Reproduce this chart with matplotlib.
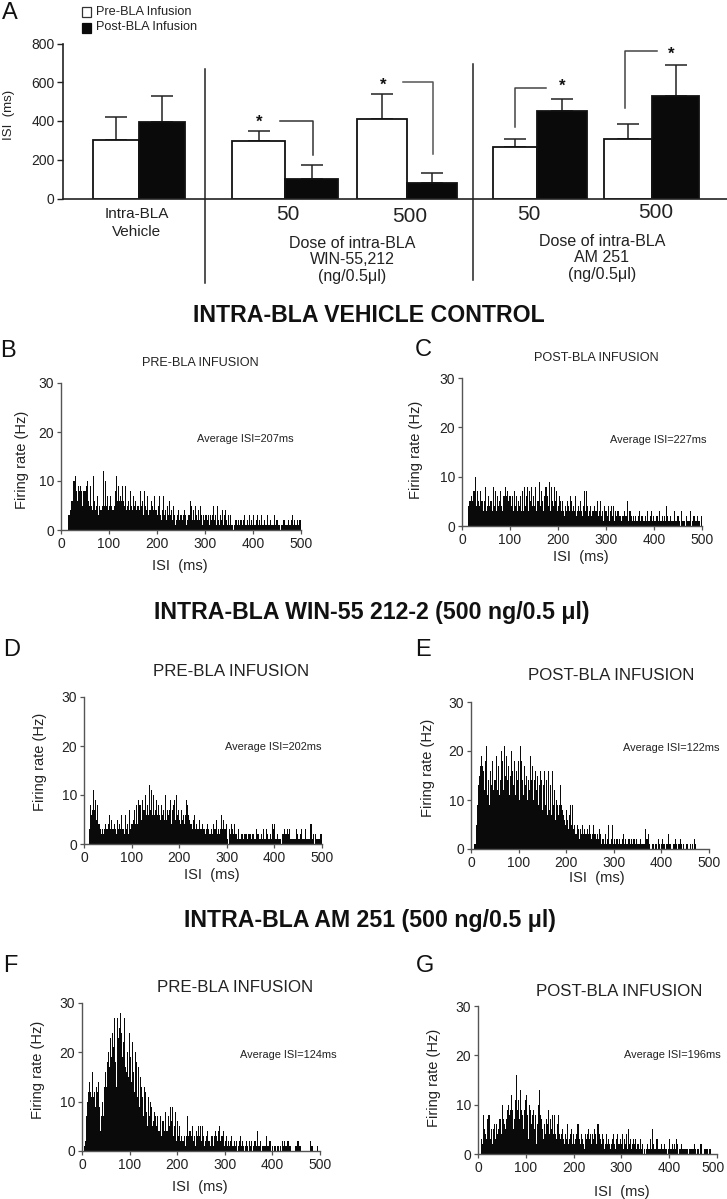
import numpy as np
import matplotlib
matplotlib.use('Agg')
import matplotlib.pyplot as plt
from matplotlib.transforms import ScaledTranslation

plt.rcParams['font.family'] = ['Liberation Sans', 'DejaVu Sans']

W, H = 727, 1199

# panel A
pre_isi = [302, 297, 410, 265, 305]
post_isi = [396, 103, 78, 452, 527]
pre_top = [420, 347, 538, 305, 383]
post_top = [530, 172, 130, 515, 690]
isi_ticks = [0, 200, 400, 600, 800]

# histograms, 2 ms bins
hist_b = [1,0,0,0,0,0,0,3,3,4,6,6,8,10,10,11,8,6,9,8,9,8,5,8,8,
          8,9,10,6,5,9,5,4,11,6,4,5,7,4,3,5,4,4,5,12,5,10,5,7,4,
          5,7,5,4,4,5,8,11,6,9,6,7,6,5,9,6,5,9,4,5,6,4,8,5,4,
          7,5,6,4,5,5,4,8,5,6,3,8,5,3,4,7,3,4,4,6,5,4,7,4,4,
          3,5,7,3,2,4,7,3,4,2,5,3,6,2,3,4,2,5,3,1,2,3,4,2,3,
          3,2,3,4,3,1,2,3,3,6,5,2,4,3,2,5,3,2,4,2,5,3,1,3,2,
          3,3,2,3,1,3,2,3,5,2,3,1,3,5,2,1,3,2,4,1,3,4,2,1,3,
          1,3,1,1,0,1,2,2,1,2,1,2,2,1,1,2,3,1,1,2,1,3,1,2,1,
          3,1,1,2,3,1,2,1,3,1,1,2,1,1,1,3,1,1,2,1,1,1,3,1,2,
          2,1,1,0,1,1,2,2,1,1,1,2,1,1,1,2,3,1,2,1,1,2,1,2,2]
hist_c = [1,0,0,0,0,0,4,5,5,6,5,7,7,5,10,4,7,5,4,7,5,5,3,5,8,
          3,4,6,4,5,5,3,8,4,7,3,6,4,4,5,7,4,3,6,6,8,6,7,5,6,
          6,4,6,3,7,4,6,3,5,4,6,3,7,5,3,8,4,6,8,3,7,5,8,4,6,
          4,8,3,5,5,9,4,7,5,3,6,8,4,8,6,4,9,3,8,5,4,8,5,7,3,
          4,6,5,3,5,3,2,4,3,5,4,3,6,2,5,3,4,3,6,2,3,4,3,5,3,
          2,4,7,3,7,4,2,3,4,2,3,3,4,2,3,3,5,2,3,5,2,3,1,4,3,
          3,2,4,1,3,4,2,4,1,3,2,3,1,3,2,2,1,2,2,3,2,2,5,1,3,
          3,2,1,2,1,2,1,1,2,3,1,2,1,2,1,1,2,1,3,1,1,2,3,1,2,
          1,1,2,2,1,3,1,1,2,1,2,1,4,1,2,1,1,2,1,1,1,3,1,1,2,
          2,1,0,3,1,1,1,0,2,1,1,1,3,1,0,1,2,2,1,1,2,1,1,0,2]
hist_d = [1,0,0,0,0,3,8,6,7,11,6,7,9,5,8,4,4,3,2,3,2,3,4,3,3,
          4,6,3,5,3,3,3,4,3,2,5,3,4,3,6,3,3,2,6,3,4,2,7,3,4,
          4,5,3,7,4,8,4,9,8,8,5,9,7,7,10,6,8,6,12,7,11,6,7,10,6,
          7,9,6,8,6,5,8,6,7,5,10,5,7,6,7,9,4,7,8,6,9,5,10,6,7,
          5,4,7,5,6,4,6,9,8,6,5,4,4,3,5,3,6,3,4,3,3,5,3,3,4,
          3,3,2,3,4,3,2,2,3,2,4,2,3,3,5,2,3,2,3,6,3,5,3,3,4,
          1,0,3,2,4,3,2,1,4,2,2,1,3,1,1,2,2,1,2,2,2,1,2,2,2,
          1,2,2,1,1,1,3,2,2,1,1,2,1,3,1,1,3,2,1,1,2,1,1,4,3,
          4,1,1,2,1,1,1,0,2,2,3,2,2,3,2,3,1,1,1,1,1,1,1,3,2,
          1,1,2,3,1,1,1,3,1,1,1,1,4,4,1,1,2,0,2,1,1,1,1,2,2]
hist_e = [1,0,0,1,1,5,9,13,15,17,19,16,17,16,12,18,21,11,14,9,16,13,18,12,14,
          14,19,12,17,11,14,20,16,18,12,21,15,19,14,17,11,15,20,16,13,18,11,16,14,18,
          10,21,13,18,14,11,17,13,15,10,14,12,19,14,17,10,14,16,12,15,9,13,16,11,14,
          8,13,16,9,14,7,16,8,13,7,16,9,12,6,10,9,7,9,13,6,9,8,7,6,5,
          8,6,4,7,9,5,9,4,5,3,3,5,4,2,2,4,3,5,3,4,3,3,4,3,5,
          3,2,3,5,3,3,2,3,2,4,2,3,1,2,2,1,3,1,2,5,1,1,2,5,1,
          2,1,2,2,1,2,1,0,1,2,3,1,2,1,1,2,2,1,2,1,2,2,1,2,1,
          1,1,0,2,1,1,1,1,4,2,2,3,1,0,0,1,1,0,1,1,0,2,1,1,0,
          1,2,1,1,0,1,1,3,1,1,0,0,1,1,2,1,0,1,0,1,2,1,0,1,0,
          0,1,1,0,0,1,0,1,0,2,1,0,0,0,0,0,0,0,0,0,0,0,0,0,0]
hist_f = [0,0,1,2,7,10,12,14,12,11,13,16,11,12,9,13,12,14,9,4,7,10,7,13,16,
          13,18,20,17,23,19,17,24,21,27,18,13,27,23,25,28,24,19,22,27,17,16,20,15,24,
          19,14,22,18,16,12,20,18,11,17,9,15,13,11,7,13,12,8,5,11,7,10,8,9,5,
          6,8,7,5,7,4,4,7,3,6,6,4,8,4,4,7,5,9,4,6,9,3,5,8,2,
          6,3,5,2,3,2,2,3,1,3,7,3,4,4,2,3,5,2,3,1,4,3,5,3,5,
          2,5,3,1,2,3,4,2,2,1,3,2,3,1,3,4,3,2,4,5,2,3,3,4,1,
          2,3,1,2,1,2,3,2,1,1,2,1,2,0,1,2,3,1,2,1,0,1,2,1,0,
          2,1,2,1,0,1,2,2,1,4,1,1,2,0,1,1,1,1,3,1,1,2,2,1,0,
          1,0,1,1,0,1,1,0,1,0,2,1,2,1,1,2,2,1,1,0,0,0,0,0,1,
          1,2,2,1,1,0,0,0,0,0,0,0,0,0,0,2,1,1,0,0,0,0,1,0,0]
hist_g = [0,0,0,3,2,8,5,4,3,7,8,4,8,3,5,2,5,6,3,6,4,5,7,7,4,
          10,7,6,5,7,9,10,8,9,6,12,9,5,7,11,16,9,11,7,13,9,8,5,9,11,
          12,8,3,10,9,6,8,3,9,5,8,2,6,10,13,8,7,5,3,6,4,7,6,9,4,
          7,5,8,4,6,8,4,3,6,8,4,3,4,5,3,2,4,3,6,2,3,4,5,2,4,
          2,3,4,2,6,6,3,2,4,3,2,1,4,3,4,5,3,4,2,4,3,5,4,2,6,
          6,3,4,3,2,4,3,1,2,4,2,3,2,1,2,3,4,2,1,3,4,2,1,2,3,
          2,4,1,3,2,4,1,5,2,3,1,2,3,2,3,1,2,2,1,3,1,1,2,0,1,
          0,1,2,1,1,3,1,5,2,1,1,3,3,1,1,1,2,1,1,1,2,1,1,0,1,
          3,1,1,2,1,2,1,3,2,0,1,1,2,1,1,1,1,1,1,1,0,1,1,1,1,
          1,2,1,0,1,1,0,2,2,0,0,1,1,0,1,1,0,1,1,0,0,0,0,0,0]

rate_ticks = [0, 10, 20, 30]
isi_bins = [0, 100, 200, 300, 400, 500]


def add_px_axes(left, right, top, bottom):
    return fig.add_axes([left / W, 1 - bottom / H, (right - left) / W, (bottom - top) / H])


fig = plt.figure(figsize=(W / 100, H / 100), dpi=100)

# overlay in pixel coordinates for captions, dividers and brackets
over = fig.add_axes([0, 0, 1, 1], zorder=5)
over.set_xlim(0, W)
over.set_ylim(H, 0)
over.axis('off')

# panel A
ax = add_px_axes(63, 727, 43.5, 198.5)
ax.set_xlim(63, 727)
ax.set_ylim(0, 800)
pre_edges = [(93, 139), (232, 285), (357, 407), (493, 537), (604, 652)]
post_edges = [(139, 185), (285, 338), (407, 457), (537, 587), (652, 699)]
for edges, vals, tops, col in [(pre_edges, pre_isi, pre_top, 'white'), (post_edges, post_isi, post_top, '#0a0a0a')]:
    for (a, b), v, t in zip(edges, vals, tops):
        ax.errorbar((a + b) / 2, v, yerr=[[0], [t - v]], color='#222222', elinewidth=1.1,
                    capsize=8, capthick=1.1, zorder=1)
        ax.bar(a, v, width=b - a, align='edge', color=col, edgecolor='#111111', linewidth=1.3, zorder=2)
ax.set_yticks(isi_ticks)
ax.set_xticks([])
ax.tick_params(axis='y', length=4, width=1, pad=2, labelsize=10, colors='#222222')
for s in ['top', 'right']:
    ax.spines[s].set_visible(False)
for s in ['left', 'bottom']:
    ax.spines[s].set_linewidth(1.2)
    ax.spines[s].set_color('#222222')

over.plot([204.5, 204.5], [69, 283], color='#222222', lw=1.1)
over.plot([473, 473], [64, 280], color='#222222', lw=1.1)
over.plot([280, 313, 313], [120.5, 120.5, 155], color='#333333', lw=1.1)
over.plot([403, 433, 433], [82, 82, 154], color='#555555', lw=1.1)
over.plot([515, 515, 546], [127, 88, 88], color='#444444', lw=1.1)
over.plot([625, 625, 657], [108, 51, 51], color='#444444', lw=1.1)

for x, y in [(259, 122), (383, 85), (562.5, 86), (671, 54)]:
    over.text(x, y, '*', ha='center', va='center', fontsize=12, fontweight='bold', color='#111111')

# legend
over.add_patch(plt.Rectangle((82, 7), 9, 10, facecolor='white', edgecolor='#333333', lw=0.9))
over.add_patch(plt.Rectangle((82, 22.5), 9, 10, facecolor='#0a0a0a', edgecolor='#0a0a0a', lw=0.9))
over.text(96, 12, 'Pre-BLA Infusion', va='center', fontsize=9.2, color='#222222')
over.text(96, 27, 'Post-BLA Infusion', va='center', fontsize=9.2, color='#222222')

labels_a = [(137, 214, 'Intra-BLA', 11), (137, 232, 'Vehicle', 11),
            (288, 214, '50', 15), (410, 217, '500', 15), (529, 214, '50', 15), (656, 212, '500', 15),
            (352, 243, 'Dose of intra-BLA', 11.5), (352, 259, 'WIN-55,212', 11.5), (352, 277, '(ng/0.5\u03bcl)', 11.5),
            (602, 241, 'Dose of intra-BLA', 11.5), (602, 258, 'AM 251', 11.5), (602, 275, '(ng/0.5\u03bcl)', 11.5)]
for x, y, s, size in labels_a:
    over.text(x, y, s, ha='center', va='center', fontsize=size, color='#222222')
over.text(9, 115, 'ISI  (ms)', rotation=90, ha='center', va='center', fontsize=9.5, color='#222222')

# section headings
over.text(369, 315, 'INTRA-BLA VEHICLE CONTROL', ha='center', va='center', fontsize=16.7, fontweight='bold', color='#111111')
over.text(372, 613, 'INTRA-BLA WIN-55 212-2 (500 ng/0.5 \u03bcl)', ha='center', va='center', fontsize=16.7, fontweight='bold', color='#111111')
over.text(370, 921, 'INTRA-BLA AM 251 (500 ng/0.5 \u03bcl)', ha='center', va='center', fontsize=16.7, fontweight='bold', color='#111111')

# panel letters
for x, y, s in [(10, 13, 'A'), (8, 351, 'B'), (423, 350, 'C'), (12, 650, 'D'),
                (423, 650, 'E'), (10, 966, 'F'), (425, 966, 'G')]:
    over.text(x, y, s, ha='center', va='center', fontsize=17, color='#111111')

panels = [
    (hist_b, (61, 301, 383, 530), 'PRE-BLA INFUSION', (200, 363.5), 9.1, 'Average ISI=207ms', (245, 439), (22, 460), (180, 566)),
    (hist_c, (462, 702, 378, 526), 'POST-BLA INFUSION', (596, 358), 9.1, 'Average ISI=227ms', (658, 440), (416, 450), (581, 557)),
    (hist_d, (84, 322, 697, 844), 'PRE-BLA INFUSION', (231, 672), 12.2, 'Average ISI=202ms', (273, 747), (40, 762), (212, 875)),
    (hist_e, (471, 709, 702, 849), 'POST-BLA INFUSION', (611, 675), 12.2, 'Average ISI=122ms', (671, 748), (428, 768), (597, 878)),
    (hist_f, (82, 320, 1003, 1151), 'PRE-BLA INFUSION', (235, 988), 12.2, 'Average ISI=124ms', (288, 1055), (38, 1070), (200, 1187)),
    (hist_g, (478, 717, 1006, 1154), 'POST-BLA INFUSION', (619, 992), 12.2, 'Average ISI=196ms', (672, 1055), (434, 1078), (622, 1192)),
]
for hist, box, title, title_xy, title_size, avg, avg_xy, yl_xy, xl_xy in panels:
    ax = add_px_axes(box[0], box[1], box[2], box[3])
    vals = np.array(hist)
    ax.bar(np.arange(len(vals)) * 2, vals, width=2.1, align='edge', color='#0a0a0a', linewidth=0)
    ax.set_xlim(0, 500)
    ax.set_ylim(0, 30)
    ax.set_xticks(isi_bins)
    ax.set_yticks(rate_ticks)
    ax.tick_params(length=3, width=0.9, pad=2, labelsize=10, color='#555555', labelcolor='#222222')
    for s in ['top', 'right']:
        ax.spines[s].set_visible(False)
    for s in ['left', 'bottom']:
        ax.spines[s].set_color('#555555')
        ax.spines[s].set_linewidth(1)
    # last label of the G panel sits against the right edge of the figure
    if box[1] > 715:
        last = ax.get_xticklabels()[-1]
        last.set_transform(last.get_transform() + ScaledTranslation(-3 / 72, 0, fig.dpi_scale_trans))
    over.text(title_xy[0], title_xy[1], title, ha='center', va='center', fontsize=title_size, color='#222222')
    over.text(avg_xy[0], avg_xy[1], avg, ha='center', va='center', fontsize=7.9, color='#222222')
    over.text(yl_xy[0], yl_xy[1], 'Firing rate (Hz)', rotation=90, ha='center', va='center', fontsize=10.5, color='#222222')
    over.text(xl_xy[0], xl_xy[1], 'ISI  (ms)', ha='center', va='center', fontsize=10.5, color='#222222')

fig.savefig('out.png', dpi=100)
